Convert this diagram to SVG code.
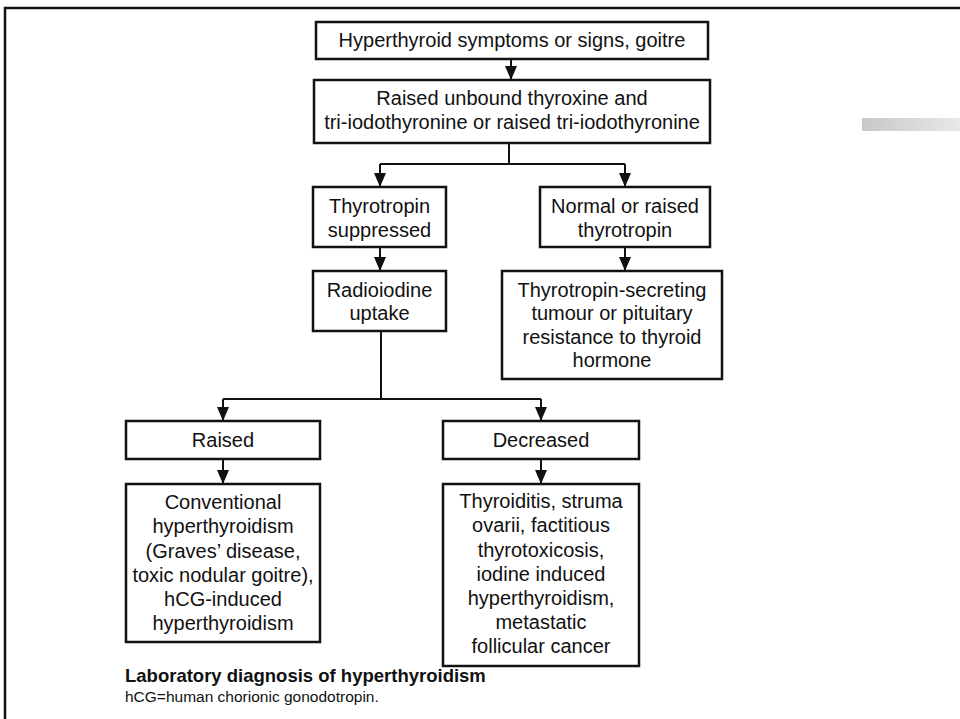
<svg xmlns="http://www.w3.org/2000/svg" width="960" height="719" viewBox="0 0 960 719">
  <defs>
    <!-- solid arrowhead; tip sits on the end of the line -->
    <marker id="arrow" markerUnits="userSpaceOnUse" markerWidth="14" markerHeight="12" viewBox="0 0 14 12" refX="14" refY="6" orient="auto">
      <path d="M0,0 L14,6 L0,12 Z" fill="#111"/>
    </marker>
    <linearGradient id="smudge" x1="0" y1="0" x2="1" y2="0">
      <stop offset="0" stop-color="#c8c8c8"/>
      <stop offset="1" stop-color="#e8e8e8"/>
    </linearGradient>
  </defs>
  <style>
    .box { fill: #fff; stroke: #111; stroke-width: 2.5; }
    .lbl { font-family: "Liberation Sans", Arial, sans-serif; font-size: 20px; fill: #111; text-anchor: middle; }
    .wire { fill: none; stroke: #111; stroke-width: 2; }
    .arr { marker-end: url(#arrow); }
    .cap { font-family: "Liberation Sans", Arial, sans-serif; fill: #111; }
    .frame { fill: none; stroke: #111; stroke-width: 2.5; }
  </style>

  <rect width="960" height="719" fill="#fff"/>

  <!-- outer frame (open on the right and bottom) -->
  <path class="frame" d="M5,719 V8 H960"/>
  <!-- faint grey band at the right edge -->
  <rect x="862" y="118" width="98" height="13" fill="url(#smudge)"/>

  <!-- connectors -->
  <g id="connectors">
    <path class="wire arr" d="M511,59 V80"/>
    <path class="wire" d="M509,143 V164 M380,164 H625"/>
    <path class="wire arr" d="M380,164 V187"/>
    <path class="wire arr" d="M625,164 V187"/>
    <path class="wire arr" d="M380,247 V271"/>
    <path class="wire arr" d="M625,247 V271"/>
    <path class="wire" d="M381,331 V399 M223,399 H541"/>
    <path class="wire arr" d="M223,399 V421"/>
    <path class="wire arr" d="M541,399 V421"/>
    <path class="wire arr" d="M223,459 V484"/>
    <path class="wire arr" d="M541,459 V484"/>
  </g>

  <g id="symptoms">
    <rect class="box" x="316" y="22" width="392" height="37"/>
    <text class="lbl" x="512" y="47">Hyperthyroid symptoms or signs, goitre</text>
  </g>

  <g id="raised-hormones">
    <rect class="box" x="314" y="80" width="396" height="63"/>
    <text class="lbl" x="512" y="105">Raised unbound thyroxine and</text>
    <text class="lbl" x="512" y="129">tri-iodothyronine or raised tri-iodothyronine</text>
  </g>

  <g id="tsh-suppressed">
    <rect class="box" x="313" y="187" width="133" height="60"/>
    <text class="lbl" x="379.5" y="213">Thyrotropin</text>
    <text class="lbl" x="379.5" y="237">suppressed</text>
  </g>

  <g id="tsh-normal">
    <rect class="box" x="540" y="187" width="170" height="60"/>
    <text class="lbl" x="625" y="213">Normal or raised</text>
    <text class="lbl" x="625" y="237">thyrotropin</text>
  </g>

  <g id="radioiodine">
    <rect class="box" x="313" y="271" width="133" height="60"/>
    <text class="lbl" x="379.5" y="297">Radioiodine</text>
    <text class="lbl" x="379.5" y="320">uptake</text>
  </g>

  <g id="tsh-secreting">
    <rect class="box" x="502" y="271" width="220" height="108"/>
    <text class="lbl" x="612" y="297">Thyrotropin-secreting</text>
    <text class="lbl" x="612" y="320">tumour or pituitary</text>
    <text class="lbl" x="612" y="344">resistance to thyroid</text>
    <text class="lbl" x="612" y="367">hormone</text>
  </g>

  <g id="uptake-raised">
    <rect class="box" x="126" y="421" width="194" height="38"/>
    <text class="lbl" x="223" y="447">Raised</text>
  </g>

  <g id="uptake-decreased">
    <rect class="box" x="443" y="421" width="196" height="38"/>
    <text class="lbl" x="541" y="447">Decreased</text>
  </g>

  <g id="conventional">
    <rect class="box" x="126" y="484" width="194" height="158"/>
    <text class="lbl" x="223" y="509">Conventional</text>
    <text class="lbl" x="223" y="533">hyperthyroidism</text>
    <text class="lbl" x="223" y="558">(Graves’ disease,</text>
    <text class="lbl" x="223" y="582">toxic nodular goitre),</text>
    <text class="lbl" x="223" y="606">hCG-induced</text>
    <text class="lbl" x="223" y="630">hyperthyroidism</text>
  </g>

  <g id="thyroiditis">
    <rect class="box" x="443" y="484" width="196" height="182"/>
    <text class="lbl" x="541" y="508">Thyroiditis, struma</text>
    <text class="lbl" x="541" y="532">ovarii, factitious</text>
    <text class="lbl" x="541" y="557">thyrotoxicosis,</text>
    <text class="lbl" x="541" y="581">iodine induced</text>
    <text class="lbl" x="541" y="605">hyperthyroidism,</text>
    <text class="lbl" x="541" y="629">metastatic</text>
    <text class="lbl" x="541" y="653">follicular cancer</text>
  </g>

  <!-- caption -->
  <g id="caption">
    <text class="cap" x="125" y="682" font-size="18.5" font-weight="bold">Laboratory diagnosis of hyperthyroidism</text>
    <text class="cap" x="125" y="702" font-size="15.5">hCG=human chorionic gonodotropin.</text>
  </g>
</svg>
